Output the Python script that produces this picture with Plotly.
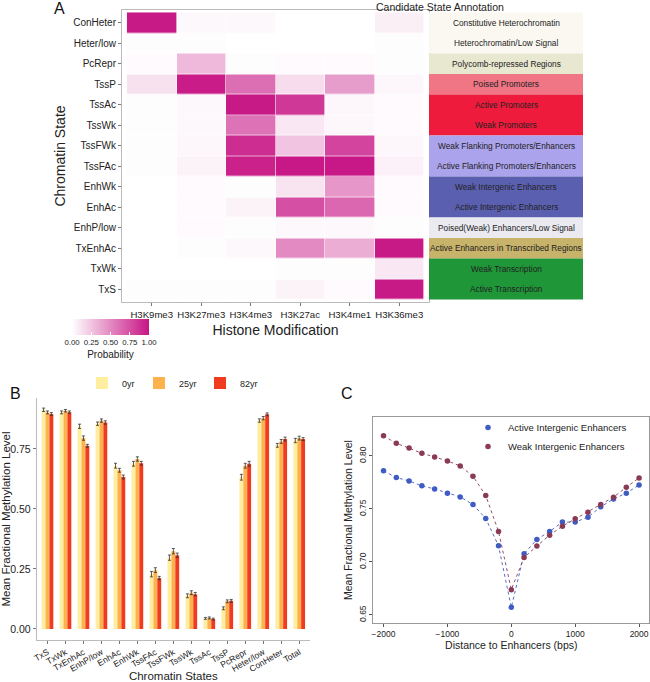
import plotly.graph_objects as go

W, H = 650, 682
FONT = "Liberation Sans, Arial, sans-serif"

# ---------------- Panel A data ----------------
states = ["ConHeter", "Heter/low", "PcRepr", "TssP", "TssAc", "TssWk", "TssFWk",
          "TssFAc", "EnhWk", "EnhAc", "EnhP/low", "TxEnhAc", "TxWk", "TxS"]
marks = ["H3K9me3", "H3K27me3", "H3K4me3", "H3K27ac", "H3K4me1", "H3K36me3"]
prob = [
    [0.98, 0.03, 0.03, 0.00, 0.00, 0.07],
    [0.01, 0.01, 0.00, 0.00, 0.00, 0.01],
    [0.02, 0.30, 0.01, 0.02, 0.02, 0.01],
    [0.13, 0.97, 0.62, 0.15, 0.42, 0.04],
    [0.01, 0.03, 0.98, 0.85, 0.04, 0.02],
    [0.01, 0.03, 0.60, 0.10, 0.04, 0.02],
    [0.01, 0.04, 0.90, 0.25, 0.80, 0.04],
    [0.01, 0.05, 0.95, 0.99, 0.99, 0.06],
    [0.00, 0.02, 0.01, 0.12, 0.45, 0.02],
    [0.00, 0.02, 0.05, 0.75, 0.65, 0.02],
    [0.00, 0.02, 0.01, 0.03, 0.03, 0.01],
    [0.00, 0.01, 0.03, 0.50, 0.35, 0.98],
    [0.00, 0.00, 0.00, 0.01, 0.01, 0.10],
    [0.01, 0.01, 0.01, 0.05, 0.02, 0.98],
]
annot_labels = ["Constitutive Heterochromatin", "Heterochromatin/Low Signal",
                "Polycomb-repressed Regions", "Poised Promoters", "Active Promoters",
                "Weak Promoters", "Weak Flanking Promoters/Enhancers",
                "Active Flanking Promoters/Enhancers", "Weak Intergenic Enhancers",
                "Active Intergenic Enhancers", "Poised(Weak) Enhancers/Low Signal",
                "Active Enhancers in Transcribed Regions", "Weak Transcription",
                "Active Transcription"]
annot_colors = ["#FAF8F0", "#FAF8F0", "#E8E7D0", "#F07585", "#EE1B3C", "#EE1B3C",
                "#ABA3EC", "#ABA3EC", "#5A5FB0", "#5A5FB0", "#EAEAF0", "#C7B36A",
                "#1F9638", "#1F9638"]
cb_ticks = [0, 0.25, 0.5, 0.75, 1.0]
cb_ticktext = ["0.00", "0.25", "0.50", "0.75", "1.00"]

# ---------------- Panel B data ----------------
b_states = ["TxS", "TxWk", "TxEnhAc", "EnhP/low", "EnhAc", "EnhWk", "TssFAc", "TssFWk",
            "TssWk", "TssAc", "TssP", "PcRepr", "Heter/low", "ConHeter", "Total"]
b_groups = ["0yr", "25yr", "82yr"]
b_0yr = [0.913, 0.902, 0.844, 0.855, 0.680, 0.688, 0.228, 0.297, 0.138, 0.044, 0.086, 0.632, 0.868, 0.765, 0.785]
b_25yr = [0.902, 0.909, 0.795, 0.868, 0.661, 0.708, 0.245, 0.324, 0.151, 0.046, 0.115, 0.680, 0.878, 0.781, 0.795]
b_82yr = [0.895, 0.903, 0.763, 0.860, 0.633, 0.690, 0.212, 0.307, 0.145, 0.041, 0.117, 0.688, 0.894, 0.791, 0.791]
b_err0 = [0.007, 0.006, 0.009, 0.007, 0.010, 0.010, 0.011, 0.011, 0.008, 0.004, 0.006, 0.012, 0.007, 0.008, 0.009]
b_err25 = [0.006, 0.005, 0.009, 0.007, 0.008, 0.009, 0.010, 0.011, 0.008, 0.004, 0.006, 0.010, 0.007, 0.008, 0.008]
b_err82 = [0.006, 0.005, 0.006, 0.007, 0.008, 0.008, 0.007, 0.009, 0.007, 0.004, 0.006, 0.010, 0.006, 0.008, 0.006]
b_colors = ["#FFEDA0", "#FEB24C", "#F03B20"]
b_yticks = [0.0, 0.25, 0.5, 0.75]
b_yticktext = ["0.00", "0.25", "0.50", "0.75"]

# ---------------- Panel C data ----------------
c_dist = [-2000, -1800, -1600, -1400, -1200, -1000, -800, -600, -400, -200, 0,
          200, 400, 600, 800, 1000, 1200, 1400, 1600, 1800, 2000]
c_active = [0.786, 0.7796, 0.7765, 0.7718, 0.7689, 0.7649, 0.7614, 0.7542, 0.7410, 0.7153, 0.6572,
            0.7077, 0.7212, 0.7288, 0.7376, 0.7376, 0.7423, 0.7520, 0.7595, 0.7649, 0.7727]
c_weak = [0.8191, 0.8119, 0.8075, 0.8025, 0.7991, 0.7953, 0.7906, 0.7809, 0.7627, 0.7288, 0.6739,
          0.7043, 0.7150, 0.7253, 0.7338, 0.7407, 0.7470, 0.7542, 0.7611, 0.7705, 0.7793]
c_names = ["Active Intergenic Enhancers", "Weak Intergenic Enhancers"]
c_colors = ["#3F5BC4", "#8A3A55"]
c_xticks = [-2000, -1000, 0, 1000, 2000]
c_yticks = [0.65, 0.70, 0.75, 0.80]
c_yticktext = ["0.65", "0.70", "0.75", "0.80"]


def fx(px):
    return px / W


def fy(py):
    return 1 - py / H


fig = go.Figure()

# Heatmap
fig.add_trace(go.Heatmap(
    z=prob, x=marks, y=states, xaxis="x", yaxis="y",
    colorscale=[[0, "#FFFFFF"], [1, "#C71585"]], zmin=0, zmax=1,
    xgap=0.6, ygap=0.6, hoverinfo="skip",
    colorbar=dict(orientation="h", x=fx(110.5), xanchor="center", y=fy(319), yanchor="top",
                  len=77, lenmode="pixels", thickness=16, outlinewidth=0,
                  xpad=0, ypad=0,
                  tickvals=cb_ticks, ticktext=cb_ticktext, tickangle=0,
                  tickfont=dict(size=7.8, color="#222"),
                  ticks="inside", tickcolor="white", ticklen=3,
                  title=dict(text="Probability", side="bottom", font=dict(size=10, color="#222"))),
))

# Annotation column
fig.add_trace(go.Bar(
    x=[1] * len(states), y=states, base=0, orientation="h", width=1,
    marker=dict(color=annot_colors, line=dict(width=0)),
    xaxis="x2", yaxis="y3", showlegend=False, hoverinfo="skip",
))

# Panel B bars (each age group gets its own small legend so the keys sit close together)
b_legends = ["legend", "legend3", "legend4"]
for name, vals, errs, col, lg in zip(b_groups, [b_0yr, b_25yr, b_82yr],
                                     [b_err0, b_err25, b_err82], b_colors, b_legends):
    fig.add_trace(go.Bar(
        x=b_states, y=vals, name=name, marker=dict(color=col, line=dict(width=0)),
        error_y=dict(type="data", array=errs, color="#333", thickness=0.8, width=1.5),
        xaxis="x3", yaxis="y4", legend=lg,
    ))

# Panel C lines
for name, vals, col in zip(c_names, [c_active, c_weak], c_colors):
    fig.add_trace(go.Scatter(
        x=c_dist, y=vals, mode="lines", line=dict(color=col, width=0.9, dash="dot"),
        xaxis="x4", yaxis="y5", showlegend=False, hoverinfo="skip",
    ))
    fig.add_trace(go.Scatter(
        x=c_dist, y=vals, mode="markers", name=name,
        marker=dict(color=col, size=5.5),
        xaxis="x4", yaxis="y5", legend="legend2",
    ))

annotations = []
for lab, st in zip(annot_labels, states):
    annotations.append(dict(x=0.5, y=st, xref="x2", yref="y3", text=lab, showarrow=False,
                            font=dict(size=8.3, color="#222")))
annotations += [
    dict(x=fx(506), y=fy(7), xref="paper", yref="paper", text="Candidate State Annotation",
         showarrow=False, font=dict(size=10.5, color="#222"), yanchor="middle"),
    dict(x=fx(52), y=fy(9), xref="paper", yref="paper", text="A", showarrow=False,
         font=dict(size=16, color="#111"), yanchor="middle"),
    dict(x=fx(8), y=fy(393), xref="paper", yref="paper", text="B", showarrow=False,
         font=dict(size=16, color="#111"), yanchor="middle"),
    dict(x=fx(347), y=fy(393), xref="paper", yref="paper", text="C", showarrow=False,
         font=dict(size=16, color="#111"), yanchor="middle"),
]

axis_font = dict(size=10, color="#222")
leg_common = dict(font=dict(size=9, color="#222"), bgcolor="rgba(0,0,0,0)",
                  itemwidth=30, tracegroupgap=0, orientation="h",
                  yanchor="middle", xanchor="left")

fig.update_layout(
    template="none",
    width=W, height=H, margin=dict(l=0, r=0, t=0, b=0, autoexpand=False),
    paper_bgcolor="white", plot_bgcolor="white",
    font=dict(family=FONT, color="#222"),
    barmode="group", bargap=0.35, bargroupgap=0,
    annotations=annotations,
    xaxis=dict(domain=[fx(122), fx(429)], anchor="y", range=[-0.6, 5.6], automargin=False,
               showline=True, mirror=True, linecolor="#BBBBBB", linewidth=1, tickangle=0,
               ticks="outside", ticklen=3, tickcolor="#777", tickfont=dict(size=9.6, color="#222"),
               showgrid=False, zeroline=False,
               title=dict(text="Histone Modification", font=dict(size=14, color="#222"), standoff=6)),
    yaxis=dict(domain=[fy(302), fy(10)], anchor="x", range=[13.62, -0.62], automargin=False,
               categoryorder="array", categoryarray=states,
               showline=True, mirror=True, linecolor="#BBBBBB", linewidth=1,
               ticks="outside", ticklen=3, tickcolor="#777", tickfont=axis_font,
               showgrid=False, zeroline=False,
               title=dict(text="Chromatin State", font=dict(size=14, color="#222"), standoff=4)),
    xaxis2=dict(domain=[fx(429), fx(583)], anchor="y3", range=[0, 1], visible=False, automargin=False),
    yaxis3=dict(domain=[fy(302), fy(10)], anchor="x2", range=[13.62, -0.62], automargin=False,
                categoryorder="array", categoryarray=states, visible=False),
    xaxis3=dict(domain=[fx(36.7), fx(310)], anchor="y4", range=[-0.6, 14.6], automargin=False,
                categoryorder="array", categoryarray=b_states,
                showline=True, linecolor="#BBBBBB", linewidth=1,
                ticks="outside", ticklen=3, tickcolor="#777", tickangle=-30,
                tickfont=dict(size=8.6, color="#222"), showgrid=False, zeroline=False,
                title=dict(text="Chromatin States", font=dict(size=11.5, color="#222"), standoff=1)),
    yaxis4=dict(domain=[fy(640), fy(398)], anchor="x3", range=[-0.046, 0.962], automargin=False,
                tickvals=b_yticks, ticktext=b_yticktext,
                showline=True, linecolor="#BBBBBB", linewidth=1,
                ticks="outside", ticklen=3, tickcolor="#777",
                tickfont=dict(size=10.5, color="#222"), showgrid=False, zeroline=False,
                title=dict(text="Mean Fractional Methylation Level", font=dict(size=11.5, color="#222"), standoff=1)),
    xaxis4=dict(domain=[fx(373.3), fx(649.3)], anchor="y5", range=[-2160, 2160], automargin=False,
                tickvals=c_xticks, showline=True, mirror=True, linecolor="#999999", linewidth=1,
                ticks="outside", ticklen=3, tickcolor="#555",
                tickfont=dict(size=8.5, color="#222"), showgrid=False, zeroline=False,
                title=dict(text="Distance to Enhancers (bps)", font=dict(size=10.5, color="#222"), standoff=3)),
    yaxis5=dict(domain=[fy(622.7), fy(417.3)], anchor="x4", range=[0.6427, 0.8365], automargin=False,
                tickvals=c_yticks, ticktext=c_yticktext, tickangle=-90,
                showline=True, mirror=True, linecolor="#999999", linewidth=1,
                ticks="outside", ticklen=3, tickcolor="#555",
                tickfont=dict(size=8.5, color="#222"), showgrid=False, zeroline=False,
                title=dict(text="Mean Fractional Methylation Level", font=dict(size=10.5, color="#222"), standoff=3)),
    legend=dict(x=fx(82), y=fy(383), **leg_common),
    legend3=dict(x=fx(139), y=fy(383), **leg_common),
    legend4=dict(x=fx(200), y=fy(383), **leg_common),
    legend2=dict(x=fx(468), xanchor="left", y=fy(437), yanchor="middle",
                 font=dict(size=9.5, color="#222"), bgcolor="rgba(0,0,0,0)",
                 itemwidth=30, tracegroupgap=0),
)

fig.write_html("out.html", config={"displayModeBar": False},
               post_script="document.body.style.margin='0px';document.body.style.overflow='hidden';")
